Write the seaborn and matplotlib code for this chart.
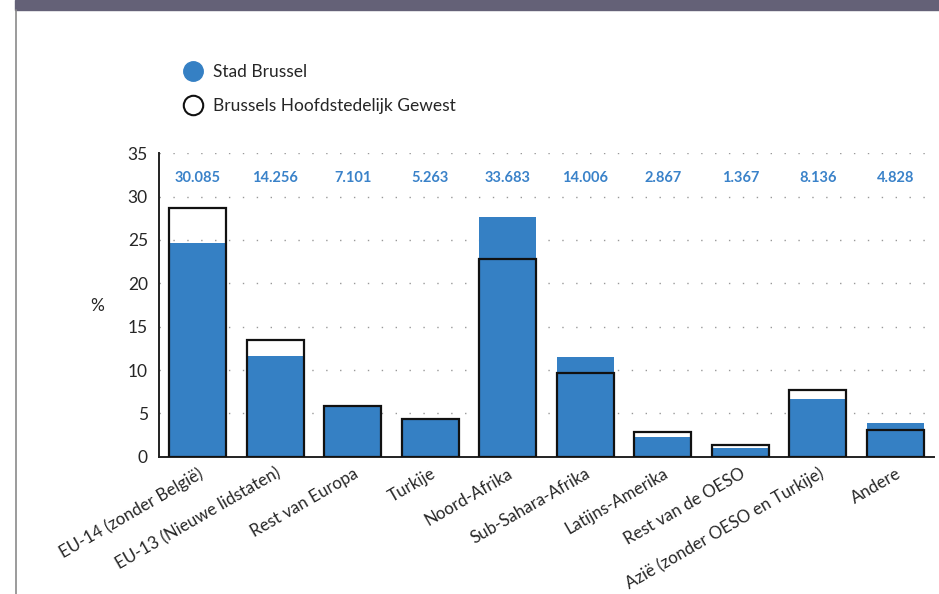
"""
Bevolking naar nationaliteitsgroep: Stad Brussel vs Brussels Hoofdstedelijk Gewest.
"""

import matplotlib.pyplot as plt
import seaborn as sns
from matplotlib.lines import Line2D
from matplotlib.patches import Rectangle

categories = [
    "EU-14 (zonder België)",
    "EU-13 (Nieuwe lidstaten)",
    "Rest van Europa",
    "Turkije",
    "Noord-Afrika",
    "Sub-Sahara-Afrika",
    "Latijns-Amerika",
    "Rest van de OESO",
    "Azië (zonder OESO en Turkije)",
    "Andere",
]
stad_brussel = [24.7, 11.6, 5.8, 4.4, 27.7, 11.5, 2.3, 1.05, 6.7, 3.9]
gewest = [28.7, 13.5, 5.8, 4.4, 22.8, 9.6, 2.85, 1.3, 7.65, 3.1]
counts = ["30.085", "14.256", "7.101", "5.263", "33.683",
          "14.006", "2.867", "1.367", "8.136", "4.828"]
y_ticks = [0, 5, 10, 15, 20, 25, 30, 35]

BLUE = "#3580c4"
LABEL_BLUE = "#3a82c9"
HEADER = "#646177"
FONT = ["Lato", "DejaVu Sans"]

sns.set_theme(style="white")
plt.rcParams["font.family"] = FONT

fig = plt.figure(figsize=(9.39, 5.94), dpi=100)
ax = fig.add_axes([0.1693, 0.2311, 0.8254, 0.5109])

sns.barplot(x=categories, y=stad_brussel, color=BLUE, saturation=1,
            width=0.73, linewidth=0, ax=ax, zorder=2)
sns.barplot(x=categories, y=gewest, color="white", saturation=1, width=0.73,
            ax=ax, facecolor="none", edgecolor="#111111", linewidth=1.6, zorder=3)

ax.set_xlim(-0.5, len(categories) - 0.5)
ax.set_ylim(0, 35)
ax.set_yticks(y_ticks)
ax.set_yticklabels([str(t) for t in y_ticks], fontsize=12.5)
ax.tick_params(axis="y", length=0, pad=8)
ax.tick_params(axis="x", length=0, pad=6)
ax.set_xticks(range(len(categories)))
ax.set_xticklabels(categories, rotation=30, ha="right", va="top",
                   rotation_mode="anchor", fontsize=12.2)

for t in y_ticks[1:]:
    ax.axhline(t, color="#999999", linestyle=(0, (1, 9)), linewidth=1.0, zorder=1)

for spine in ["top", "right"]:
    ax.spines[spine].set_visible(False)
ax.spines["left"].set_color("#222222")
ax.spines["bottom"].set_color("#222222")
ax.spines["left"].set_linewidth(1.4)
ax.spines["bottom"].set_linewidth(1.4)

for i, c in enumerate(counts):
    ax.text(i, 32.2, c, ha="center", va="center", color=LABEL_BLUE,
            fontsize=10.5, fontweight="bold")

fig.text(97 / 939, 1 - 306 / 594, "%", ha="center", va="center", fontsize=12.5)

handles = [
    Line2D([], [], marker="o", linestyle="", markersize=14,
           markerfacecolor=BLUE, markeredgecolor=BLUE),
    Line2D([], [], marker="o", linestyle="", markersize=14,
           markerfacecolor="white", markeredgecolor="#111111", markeredgewidth=1.5),
]
fig.legend(handles, ["Stad Brussel", "Brussels Hoofdstedelijk Gewest"],
           loc="upper left", bbox_to_anchor=(176 / 939, 1 - 64 / 594),
           frameon=False, fontsize=12.5, handletextpad=0.15,
           labelspacing=1.05, borderaxespad=0, borderpad=0)

# header strip and panel border
fig.patches.append(Rectangle((15 / 939, 1 - 10 / 594), 1, 10 / 594,
                             transform=fig.transFigure, color=HEADER, zorder=0))
fig.add_artist(Line2D([16 / 939, 16 / 939], [0, 1 - 10 / 594],
                      transform=fig.transFigure, color="#8a8a8a", linewidth=1.2))

fig.savefig("out.png", dpi=100)
